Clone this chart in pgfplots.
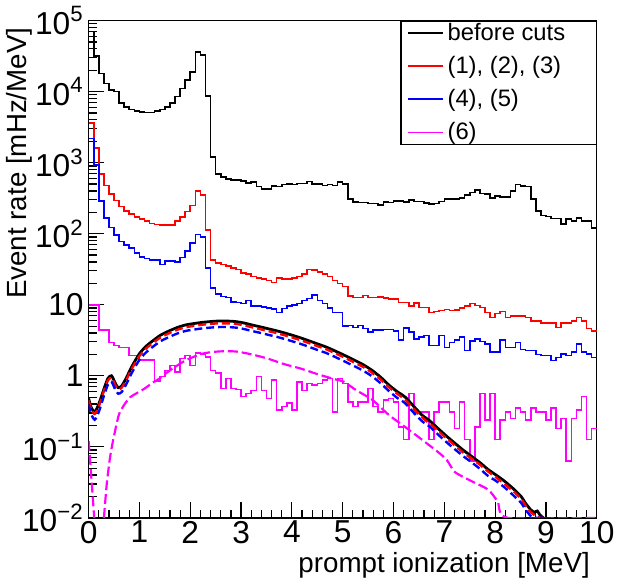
\documentclass[border=0pt]{standalone}
\usepackage{pgfplots}
\pgfplotsset{compat=1.18}
\usepackage{pgfplotstable}
\usepackage{fontspec}
\setmainfont{Liberation Sans}
\definecolor{rred}{RGB}{255,0,0}
\definecolor{rblue}{RGB}{0,0,255}
\definecolor{rmag}{RGB}{255,0,255}

\pgfplotstableread{
x bc c123 c45 c6
0.0 70000 3600 2200 10
0.1 32000 1600 930 10
0.2 18000 690 290 4.4
0.3 13000 480 167 4.4
0.4 10500 365 122 2.95
0.5 10000 295 96 2.66
0.6 6900 240 78 2.5
0.7 6100 210 70 2.5
0.8 5600 190 63 1.93
0.9 5300 172 54 1.93
1.0 5200 160 47 1.68
1.1 5100 150 45 1.68
1.2 5100 140 43 1.68
1.3 5300 135 43 0.85
1.4 5600 133 37 0.98
1.5 6100 133 41 1.19
1.6 6900 133 41 1.4
1.7 8500 150 40 1.13
1.8 11000 172 46 1.74
1.9 14500 205 57 1.93
2.0 19000 250 74 1.4
2.1 36000 400 98 2.08
2.2 33000 350 90 2.0
2.3 8700 112 33 1.85
2.4 1200 43 17.3 1.19
2.5 690 39 14.2 1.1
2.6 630 37 13 0.66
2.7 590 35 12.6 0.91
2.8 565 33 11 0.66
2.9 565 31.5 10.8 0.64
3.0 548 28 10.4 0.51
3.1 520 27 11.5 0.56
3.2 530 25 9.6 0.62
3.3 460 24 9.6 0.98
3.4 430 23 9.3 0.62
3.5 430 22 9.0 0.48
3.6 470 20.5 8.7 0.88
3.7 460 24 7.8 0.33
3.8 490 23 8.8 0.37
3.9 500 23 9.6 0.41
4.0 490 24 10 0.33
4.1 510 25 10.4 0.82
4.2 510 27 11.5 0.62
4.3 540 31.5 12.3 0.78
4.4 500 31 13.7 0.74
4.5 500 29 11.5 0.78
4.6 480 27 10.4 0.88
4.7 490 25 9.0 0.91
4.8 480 22 7.8 0.31
4.9 530 20 7.8 0.91
5.0 500 18 5.0 0.78
5.1 310 13.3 5.1 0.43
5.2 280 12.6 4.8 0.37
5.3 275 12.6 5.1 0.43
5.4 275 13.5 4.6 0.43
5.5 265 12.6 4.1 0.66
5.6 265 12.6 4.4 0.37
5.7 255 12.8 4.4 0.31
5.8 280 12.4 4.5 0.46
5.9 275 12 4.5 0.48
6.0 290 12 4.3 0.43
6.1 290 10.8 3.2 0.19
6.2 280 10.8 4.7 0.126
6.3 300 9.6 4.1 0.56
6.4 285 10.6 3.3 0.31
6.5 285 9.1 3.5 0.31
6.6 270 9.1 3.7 0.31
6.7 260 7.8 2.66 0.126
6.8 265 8.0 2.66 0.31
6.9 285 8.3 3.7 0.43
7.0 310 8.6 2.5 0.43
7.1 310 8.3 2.95 0.31
7.2 310 8.4 3.2 0.18
7.3 320 9.0 3.5 0.43
7.4 350 9.6 2.27 0.126
7.5 380 10.4 3.1 0.063
7.6 410 9.8 3.3 0.19
7.7 370 9.1 3.05 0.56
7.8 360 7.8 2.8 0.24
7.9 320 6.6 2.15 0.56
8.0 340 7.5 2.15 0.126
8.1 330 8.0 3.2 0.24
8.2 330 6.6 2.5 0.31
8.3 400 7.0 2.5 0.25
8.4 490 7.0 2.95 0.35
8.5 470 7.0 2.35 0.31
8.6 460 6.6 2.27 0.24
8.7 310 5.9 2.27 0.35
8.8 210 5.9 2.0 0.31
8.9 180 5.5 1.93 0.31
9.0 175 5.5 1.93 0.24
9.1 163 5.5 1.65 0.35
9.2 163 4.8 1.82 0.18
9.3 137 5.5 2.04 0.25
9.4 160 5.5 1.93 0.063
9.5 150 5.9 2.15 0.25
9.6 165 6.6 2.8 0.33
9.7 150 5.9 2.15 0.51
9.8 150 4.6 2.04 0.126
9.9 120 4.3 1.82 0.18
10.0 120 4.3 1.82 0.18
}\hist

\pgfplotstableread{
x blk red blu
0.00 0.48 0.45 0.40
0.05 0.36 0.34 0.29
0.12 0.31 0.29 0.24
0.20 0.40 0.37 0.31
0.30 0.65 0.61 0.52
0.38 0.92 0.86 0.75
0.45 1.00 0.94 0.82
0.52 0.80 0.75 0.65
0.58 0.68 0.64 0.56
0.65 0.72 0.68 0.59
0.74 0.93 0.87 0.76
0.85 1.35 1.26 1.10
1.00 2.05 1.90 1.68
1.13 2.60 2.42 2.13
1.26 3.10 2.88 2.55
1.42 3.75 3.48 3.08
1.59 4.30 3.99 3.53
1.75 4.80 4.45 3.95
1.91 5.20 4.82 4.28
2.08 5.45 5.05 4.48
2.24 5.65 5.24 4.65
2.40 5.80 5.38 4.77
2.56 5.90 5.47 4.85
2.72 5.90 5.47 4.85
2.89 5.80 5.38 4.77
3.05 5.55 5.15 4.56
3.21 5.20 4.82 4.28
3.37 4.90 4.54 4.03
3.53 4.60 4.27 3.78
3.70 4.30 3.99 3.54
3.86 4.00 3.71 3.29
4.02 3.70 3.43 3.04
4.18 3.40 3.15 2.80
4.34 3.10 2.88 2.55
4.51 2.80 2.60 2.30
4.67 2.55 2.37 2.10
4.83 2.27 2.11 1.87
5.03 1.95 1.81 1.60
5.26 1.62 1.50 1.33
5.42 1.41 1.31 1.16
5.58 1.19 1.10 0.98
5.75 0.95 0.88 0.78
5.91 0.74 0.69 0.61
6.07 0.60 0.56 0.49
6.23 0.50 0.46 0.41
6.40 0.37 0.34 0.30
6.56 0.28 0.26 0.23
6.72 0.23 0.21 0.19
6.88 0.18 0.167 0.148
7.05 0.14 0.13 0.115
7.21 0.112 0.104 0.092
7.37 0.090 0.083 0.074
7.53 0.074 0.069 0.061
7.70 0.060 0.056 0.049
7.86 0.048 0.045 0.039
8.02 0.040 0.037 0.033
8.18 0.033 0.030 0.027
8.35 0.026 0.024 0.021
8.51 0.020 0.0185 0.0163
8.60 0.016 0.0148 0.013
8.70 0.013 0.012 0.0106
8.77 0.012 0.011 0.0100
8.83 0.0125 0.0103 0.0100
8.88 0.011 0.0100 0.0100
8.95 0.0100 0.0100 0.0100
}\curves

\pgfplotstableread{
x y
0.30 0.0100
0.33 0.018
0.36 0.032
0.42 0.070
0.47 0.112
0.53 0.18
0.60 0.29
0.71 0.40
0.82 0.50
0.93 0.56
1.10 0.66
1.26 0.80
1.39 0.91
1.52 1.08
1.65 1.26
1.91 1.65
2.24 2.05
2.56 2.20
2.89 2.20
3.21 2.00
3.53 1.74
3.86 1.45
4.18 1.26
4.51 1.05
4.83 0.90
5.03 0.82
5.26 0.63
5.58 0.46
5.91 0.28
6.23 0.19
6.56 0.126
6.88 0.084
7.05 0.065
7.21 0.044
7.53 0.033
7.86 0.025
8.05 0.017
8.25 0.0100
10.0 0.0100
}\magcurve

\pgfplotstableread{
x y
0.00 0.12
0.04 0.05
0.08 0.02
0.11 0.0100
}\magstart

\begin{document}
\begin{tikzpicture}
\begin{axis}[
  scale only axis, width=256.5pt, height=251pt,
  ymode=log, xmin=0, xmax=10, ymin=0.01, ymax=1e5,
  axis line style={line width=0.7pt},
  tick align=inside, xtick pos=left, ytick pos=left,
  xtick={0,1,2,3,4,5,6,7,8,9,10}, minor x tick num=4,
  ytick={1e-2,1e-1,1,10,100,1000,1e4,1e5},
  yticklabels={10\textsuperscript{−2},10\textsuperscript{−1},1,10,10\textsuperscript{2},10\textsuperscript{3},10\textsuperscript{4},10\textsuperscript{5}},
  minor ytick={0.02,0.03,0.04,0.05,0.06,0.07,0.08,0.09,
    0.2,0.3,0.4,0.5,0.6,0.7,0.8,0.9,
    2,3,4,5,6,7,8,9,
    20,30,40,50,60,70,80,90,
    200,300,400,500,600,700,800,900,
    2000,3000,4000,5000,6000,7000,8000,9000,
    20000,30000,40000,50000,60000,70000,80000,90000},
  major tick length=8pt, minor tick length=4pt,
  tick style={line width=0.6pt, black},
  /pgf/number format/assume math mode=true,
  ticklabel style={font=\fontsize{16}{18}\selectfont},
  xticklabel style={yshift=2pt},
  yticklabel style={xshift=1pt},
  label style={font=\fontsize{14}{16}\selectfont},
  xlabel={prompt ionization [MeV]},
  ylabel={Event rate [mHz/MeV]},
  xlabel style={at={(axis description cs:1,-0.056)}, anchor=north east},
  ylabel style={at={(axis description cs:-0.136,1.0)}, anchor=east},
  legend style={at={(1,1)}, anchor=north east, draw=black, line width=0.6pt,
    inner xsep=3pt, inner ysep=0pt, font=\fontsize{12}{14}\selectfont,
    nodes={inner ysep=1pt}, row sep=4.5pt, cells={anchor=west}},
  legend cell align=left,
  legend image code/.code={\draw[#1, line width=1pt] (0pt,0pt) -- (17.5pt,0pt);},
]
\addplot[const plot mark left, black, line width=0.8pt] table[x=x, y=bc] {\hist};
\addlegendentry{\makebox[70pt][l]{before cuts}}
\addplot[const plot mark left, rred, line width=0.8pt] table[x=x, y=c123] {\hist};
\addlegendentry{(1), (2), (3)}
\addplot[const plot mark left, rblue, line width=0.8pt] table[x=x, y=c45] {\hist};
\addlegendentry{(4), (5)}
\addplot[const plot mark left, rmag, line width=0.8pt] table[x=x, y=c6] {\hist};
\addlegendentry{(6)}

\addplot[forget plot, black, line width=1.4pt, smooth, tension=0.4] table[x=x, y=blk] {\curves};
\addplot[forget plot, rred, line width=1.2pt, dash pattern=on 4pt off 2pt, smooth, tension=0.4] table[x=x, y=red] {\curves};
\addplot[forget plot, rblue, line width=1.2pt, dash pattern=on 4pt off 2pt, smooth, tension=0.4] table[x=x, y=blu] {\curves};
\addplot[forget plot, rmag, line width=1.1pt, dash pattern=on 5pt off 2pt, smooth, tension=0.4] table[x=x, y=y] {\magcurve};
\addplot[forget plot, rmag, line width=1.1pt, dash pattern=on 5pt off 2pt] table[x=x, y=y] {\magstart};
\end{axis}
\end{tikzpicture}
\end{document}
